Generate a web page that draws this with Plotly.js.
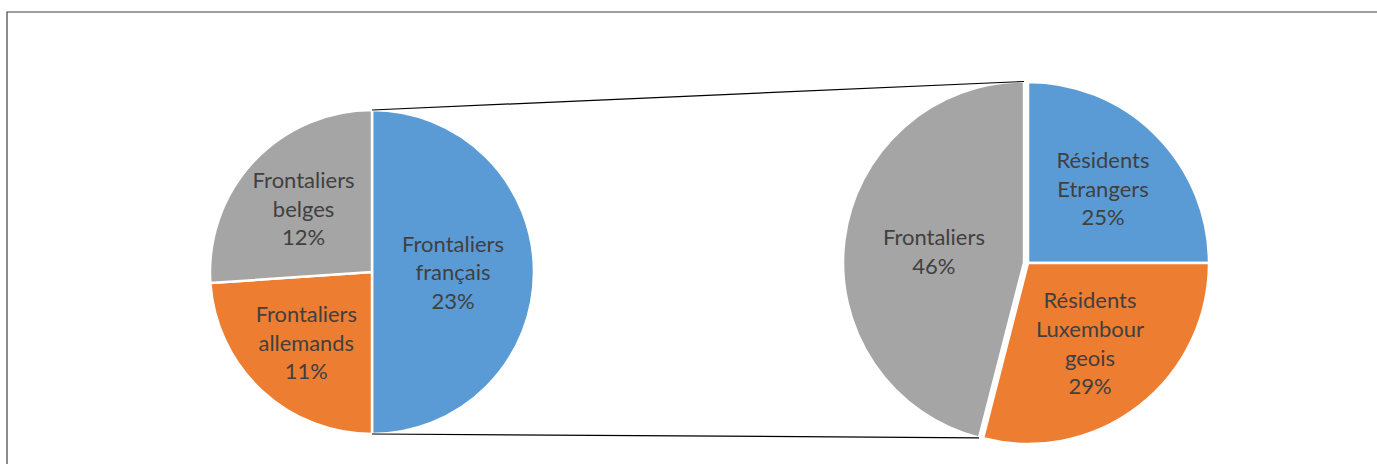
<!DOCTYPE html>
<html>
<head>
<meta charset="utf-8">
<script src="https://cdn.plot.ly/plotly-3.0.1.min.js"></script>
<style>html,body{margin:0;padding:0;background:#fff;}#chart{width:1377px;height:464px;}</style>
</head>
<body>
<div id="chart"></div>
<script>
// Secondary (left) pie: split of the "Frontaliers" slice
const leftLabels = ["Frontaliers<br>français", "Frontaliers<br>allemands", "Frontaliers<br>belges"];
const leftValues = [23, 11, 12];
// Main (right) pie
const rightLabels = ["Résidents<br>Etrangers", "Résidents<br>Luxembour<br>geois", "Frontaliers"];
const rightValues = [25, 29, 46];
const colors = ["#5B9BD5", "#ED7D31", "#A5A5A5"];

const W = 1377, H = 464;
const leftDom = {x: [210 / W, 534 / W], y: [30 / H, 354 / H]};
const rightPull = [0, 0, 0.022];
const rightDom = {x: [843 / W, 1213 / W], y: [16 / H, 386 / H]};

const font = {family: "Lato, 'Open Sans', sans-serif", size: 22, color: "#404040"};

const common = {
  type: "pie", sort: false, direction: "clockwise", rotation: 0,
  textposition: "inside", insidetextorientation: "horizontal",
  texttemplate: "%{label}<br>%{value}%", hoverinfo: "none",
  insidetextfont: font, showlegend: false
};

const traces = [
  Object.assign({}, common, {
    labels: leftLabels, values: leftValues, domain: leftDom,
    marker: {colors: colors, line: {color: "#ffffff", width: 2.5}}
  }),
  Object.assign({}, common, {
    labels: rightLabels, values: rightValues, domain: rightDom, pull: rightPull,
    marker: {colors: colors, line: {color: "#ffffff", width: 2.5}}
  })
];

// Geometry of connector lines derived from the pie domains and data
function geom(dom, maxPull) {
  const x0 = dom.x[0] * W, x1 = dom.x[1] * W;
  const y0 = (1 - dom.y[1]) * H, y1 = (1 - dom.y[0]) * H;
  const r = Math.min(x1 - x0, y1 - y0) / 2 / (1 + maxPull);
  return {cx: (x0 + x1) / 2, cy: (y0 + y1) / 2, r: r};
}
function pt(g, ang, off) {
  return [g.cx + off[0] + g.r * Math.sin(ang), g.cy + off[1] - g.r * Math.cos(ang)];
}
const gl = geom(leftDom, 0);
const leftTot = leftValues.reduce((a, b) => a + b, 0);
const lA = pt(gl, 0, [0, 0]);
const lB = pt(gl, 2 * Math.PI * leftValues[0] / leftTot, [0, 0]);

const maxPull = Math.max.apply(null, rightPull);
const gr = geom(rightDom, maxPull);
const rightTot = rightValues.reduce((a, b) => a + b, 0);
const sA = 2 * Math.PI * (rightValues[0] + rightValues[1]) / rightTot;
const sB = 2 * Math.PI;
const mid = (sA + sB) / 2;
const off = [rightPull[2] * gr.r * Math.sin(mid), -rightPull[2] * gr.r * Math.cos(mid)];
const rA = pt(gr, sB, off);
const rB = pt(gr, sA, off);

const px = v => v / W, py = v => 1 - v / H;
const shapes = [
  {type: "rect", xref: "paper", yref: "paper", x0: px(7), x1: px(W + 10), y0: py(H + 10), y1: py(12),
   line: {color: "#404040", width: 1.2}, fillcolor: "rgba(0,0,0,0)", layer: "below"},
  {type: "line", xref: "paper", yref: "paper", x0: px(lA[0]), y0: py(lA[1]), x1: px(rA[0]), y1: py(rA[1]),
   line: {color: "#000000", width: 1.2}},
  {type: "line", xref: "paper", yref: "paper", x0: px(lB[0]), y0: py(lB[1]), x1: px(rB[0]), y1: py(rB[1]),
   line: {color: "#000000", width: 1.2}}
];

const layout = {
  width: W, height: H, margin: {l: 0, r: 0, t: 0, b: 0},
  paper_bgcolor: "#ffffff", plot_bgcolor: "#ffffff",
  font: font, shapes: shapes
};

Plotly.newPlot("chart", traces, layout, {staticPlot: true, displayModeBar: false});
</script>
</body>
</html>
